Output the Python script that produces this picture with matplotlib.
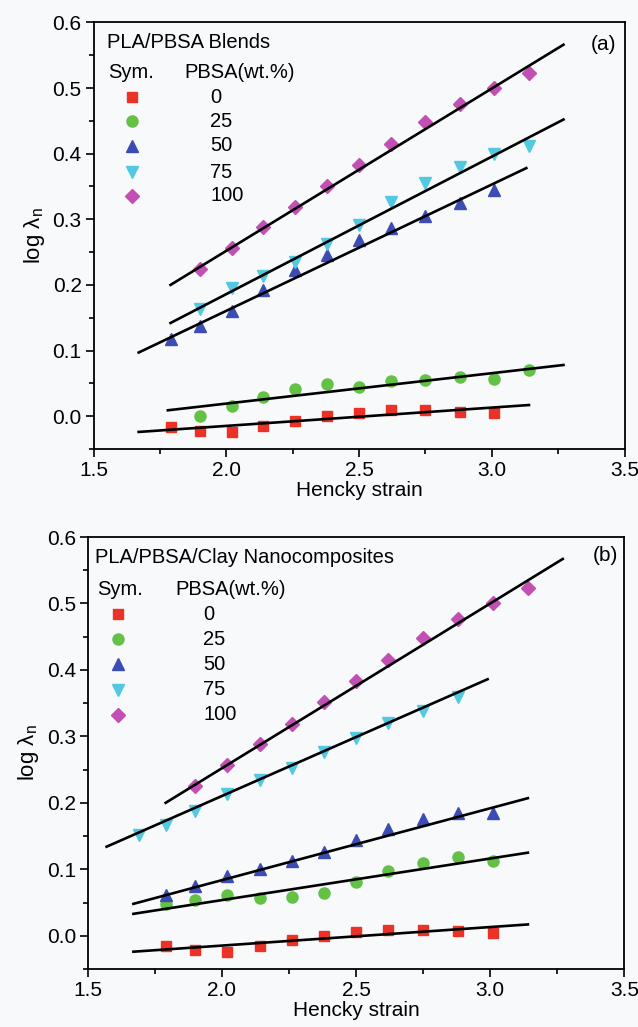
import matplotlib
matplotlib.use("Agg")
import matplotlib.pyplot as plt
from matplotlib.ticker import MultipleLocator

plt.rcParams['font.family'] = ['Liberation Sans', 'DejaVu Sans']
plt.rcParams['mathtext.fontset'] = 'custom'
plt.rcParams['mathtext.rm'] = 'Liberation Sans'

# Hencky strain positions of the data points
strain = [1.79, 1.90, 2.02, 2.14, 2.26, 2.38, 2.50, 2.62, 2.75, 2.88, 3.01, 3.14]
strain_cyan_b = [1.69, 1.79, 1.90, 2.02, 2.14, 2.26, 2.38, 2.50, 2.62, 2.75, 2.88]

pbsa = ["0", "25", "50", "75", "100"]
colors = ["#ec3127", "#63c145", "#3c4cb3", "#52c9e0", "#c24fb4"]
markers = ["s", "o", "^", "v", "D"]
msizes = [7, 8, 8.5, 8.5, 7.5]

# (a) PLA/PBSA blends
a_x = [strain[0:11], strain[1:12], strain[0:11], strain[1:12], strain[1:12]]
a_y = [
    [-0.017, -0.022, -0.024, -0.015, -0.007, 0.001, 0.005, 0.009, 0.009, 0.007, 0.005],
    [0.001, 0.015, 0.029, 0.041, 0.049, 0.045, 0.053, 0.055, 0.059, 0.056, 0.070],
    [0.117, 0.137, 0.160, 0.192, 0.222, 0.245, 0.268, 0.287, 0.305, 0.325, 0.345],
    [0.163, 0.195, 0.214, 0.235, 0.262, 0.292, 0.326, 0.355, 0.380, 0.399, 0.411],
    [0.225, 0.257, 0.288, 0.318, 0.351, 0.383, 0.415, 0.448, 0.476, 0.500, 0.523],
]
# fitted lines: x start, x end, y start, y end
a_fit_x0 = [1.67, 1.78, 1.67, 1.79, 1.79]
a_fit_x1 = [3.14, 3.27, 3.13, 3.27, 3.27]
a_fit_y0 = [-0.024, 0.009, 0.097, 0.142, 0.200]
a_fit_y1 = [0.017, 0.078, 0.378, 0.452, 0.566]

# (b) PLA/PBSA/clay nanocomposites
b_x = [strain[0:11], strain[0:11], strain[0:11], strain_cyan_b, strain[1:12]]
b_y = [
    [-0.016, -0.021, -0.024, -0.015, -0.006, 0.000, 0.005, 0.009, 0.009, 0.007, 0.004],
    [0.048, 0.054, 0.062, 0.057, 0.059, 0.065, 0.081, 0.098, 0.110, 0.118, 0.112],
    [0.062, 0.075, 0.090, 0.100, 0.112, 0.126, 0.144, 0.160, 0.175, 0.185, 0.184],
    [0.151, 0.166, 0.188, 0.213, 0.234, 0.253, 0.276, 0.298, 0.320, 0.338, 0.359],
    [0.225, 0.257, 0.288, 0.318, 0.351, 0.383, 0.415, 0.448, 0.476, 0.500, 0.523],
]
b_fit_x0 = [1.67, 1.67, 1.67, 1.57, 1.79]
b_fit_x1 = [3.14, 3.14, 3.14, 2.99, 3.27]
b_fit_y0 = [-0.024, 0.033, 0.048, 0.134, 0.200]
b_fit_y1 = [0.017, 0.125, 0.207, 0.386, 0.567]

bg = "#f8f9fb"
fig = plt.figure(figsize=(6.38, 10.27), dpi=100, facecolor=bg)
ax_a = fig.add_axes([0.1466, 0.5628, 0.8323, 0.4154])
ax_b = fig.add_axes([0.1376, 0.0565, 0.8412, 0.4206])


def draw_panel(ax, xs, ys, fx0, fx1, fy0, fy1, title, tag, leg):
    ax.set_facecolor(bg)
    for i in range(5):
        ax.plot(xs[i], ys[i], linestyle="none", marker=markers[i], ms=msizes[i],
                color=colors[i], mec=colors[i], zorder=3)
        ax.plot([fx0[i], fx1[i]], [fy0[i], fy1[i]], color="black", lw=1.9, zorder=4)

    ax.set_xlim(1.5, 3.5)
    ax.set_ylim(-0.05, 0.6)
    ax.xaxis.set_major_locator(MultipleLocator(0.5))
    ax.xaxis.set_minor_locator(MultipleLocator(0.25))
    ax.yaxis.set_major_locator(MultipleLocator(0.1))
    ax.yaxis.set_minor_locator(MultipleLocator(0.05))
    ax.tick_params(which="both", direction="out", top=False, right=False,
                   width=1.2, labelsize=15, pad=2.5)
    ax.tick_params(which="major", length=6)
    ax.tick_params(which="minor", length=3.5)
    for sp in ax.spines.values():
        sp.set_linewidth(1.3)
    ax.set_xlabel("Hencky strain", fontsize=15, labelpad=1)
    ax.set_ylabel(r"log λ$_\mathregular{n}$", fontsize=16, labelpad=4)

    tx, sx, px, mx, lx, ty, sy, my = leg
    ax.text(tx, ty, title, transform=ax.transAxes, fontsize=14.5, va="center")
    ax.text(sx, sy, "Sym.", transform=ax.transAxes, fontsize=14.5, va="center")
    ax.text(px, sy, "PBSA(wt.%)", transform=ax.transAxes, fontsize=14.5, va="center")
    for i in range(5):
        ax.plot([mx], [my[i]], transform=ax.transAxes, linestyle="none",
                marker=markers[i], ms=msizes[i], color=colors[i], clip_on=False)
        ax.text(lx, my[i], pbsa[i], transform=ax.transAxes, fontsize=14.5, va="center")
    ax.text(tag[0], tag[1], tag[2], transform=ax.transAxes, fontsize=15,
            ha="center", va="center")


draw_panel(ax_a, a_x, a_y, a_fit_x0, a_fit_x1, a_fit_y0, a_fit_y1,
           "PLA/PBSA Blends", (0.96, 0.949, "(a)"),
           (0.025, 0.028, 0.172, 0.073, 0.22, 0.954, 0.883,
            [0.825, 0.768, 0.711, 0.649, 0.594]))
draw_panel(ax_b, b_x, b_y, b_fit_x0, b_fit_x1, b_fit_y0, b_fit_y1,
           "PLA/PBSA/Clay Nanocomposites", (0.964, 0.957, "(b)"),
           (0.0134, 0.0165, 0.1625, 0.057, 0.215, 0.952, 0.879,
            [0.821, 0.763, 0.705, 0.646, 0.589]))

fig.savefig("out.png", dpi=100, facecolor=bg)
